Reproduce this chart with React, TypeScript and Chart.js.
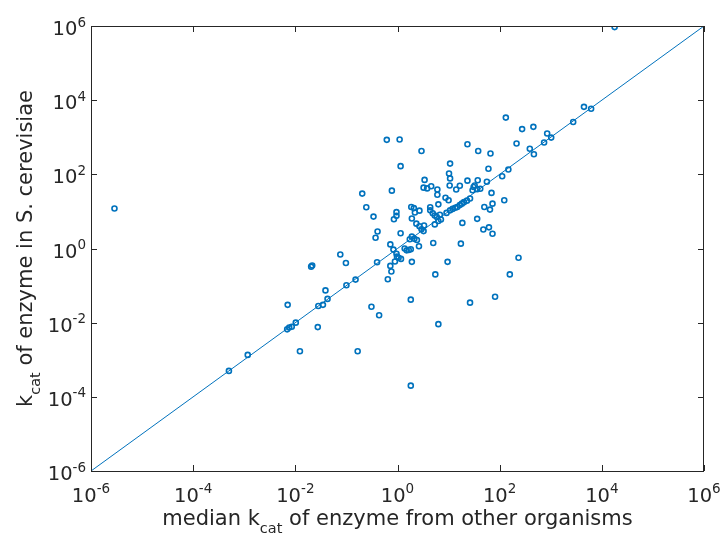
import React, { useEffect, useRef } from "react";
import { Chart, registerables } from "chart.js";

Chart.register(...registerables);

// median kcat of enzyme from other organisms (x) and kcat in S. cerevisiae (y)
const medianKcatOther: number[] = [
  1.78e4, 4.47e3, 6.17e3, 132, 2.75e3, 275, 457, 851, 1.02e3, 741,
  389, 468, 214, 0.617, 1.10, 2.95, 23.4, 38.0, 66.1, 1.15,
  10.7, 60.3, 148, 10.2, 112, 10.7, 3.39, 23.4, 37.2, 56.2,
  10.5, 16.6, 14.1, 3.24, 3.80, 4.57, 6.03, 6.03, 29.5, 30.9,
  32.4, 36.3, 41.7, 69.2, 0.776, 0.204, 123, 8.71, 10.0, 6.31,
  22.9, 20.0, 18.2, 16.6, 14.8, 13.5, 12.0, 10.7, 9.12, 26.3,
  50.1, 64.6, 72.4, 36.3, 18.6, 47.9, 61.7, 72.4, 0.245, 0.339,
  0.407, 0.372, 0.955, 0.955, 0.851, 1.15, 0.724, 1.86, 2.09, 2.69,
  2.19, 1.91, 2.34, 2.69, 3.31, 2.95, 3.24, 4.37, 4.37, 4.90,
  5.37, 5.89, 6.76, 7.08, 6.31, 5.37, 5.01, 2.63, 1.91, 1.74,
  2.14, 2.40, 1.38, 1.51, 1.66, 1.82, 0.832, 0.955, 17.4, 0.0759,
  0.0977, 0.398, 0.977, 1.05, 0.891, 1.17, 0.724, 0.759, 0.646, 0.151,
  0.100, 0.0427, 0.0389, 0.309, 0.437, 1.82, 6.31, 5.50, 1.91, 9.55,
  26.3, 81.3, 158, 234, 0.0204, 0.0214, 0.00708, 0.0282, 0.0347, 0.0102,
  0.00851, 0.00759, 0.00692, 0.0275, 0.0123, 0.166, 1.82, 0.00117, 0.000501, 2.88e-6,
];

const kcatCerevisiae: number[] = [
  9.33e5, 6.61e3, 5.89e3, 3.39e3, 2.57e3, 1.66e3, 1.91e3, 1.26e3, 977, 724,
  490, 347, 676, 851, 871, 427, 646, 427, 363, 166,
  195, 141, 135, 105, 89.1, 77.6, 70.8, 67.6, 69.2, 63.1,
  50.1, 49.0, 38.9, 43.7, 41.7, 47.9, 38.9, 28.2, 37.2, 45.7,
  50.1, 39.8, 40.7, 31.6, 36.3, 30.2, 20.0, 23.4, 20.0, 15.5,
  19.5, 17.8, 16.2, 14.8, 13.2, 12.6, 11.7, 10.7, 9.12, 22.4,
  13.2, 11.2, 16.2, 6.31, 4.90, 3.24, 3.72, 2.51, 12.9, 7.24,
  2.88, 1.95, 9.55, 7.59, 6.17, 2.57, 1.29, 13.2, 12.3, 10.5,
  9.33, 6.46, 4.68, 3.98, 4.17, 3.31, 2.95, 12.9, 10.7, 8.91,
  7.76, 7.08, 8.13, 6.03, 5.50, 4.47, 1.41, 1.15, 2.09, 1.78,
  1.82, 1.70, 1.00, 0.891, 0.912, 0.955, 0.933, 0.724, 1.35, 0.692,
  0.407, 0.427, 0.603, 0.562, 0.447, 0.525, 0.339, 0.240, 0.148, 0.145,
  0.102, 0.0437, 0.0741, 0.0269, 0.0158, 0.0417, 0.00912, 0.200, 0.437, 0.437,
  0.0347, 0.0501, 0.200, 0.562, 0.324, 0.347, 0.0302, 0.0282, 0.0302, 0.0100,
  0.00776, 0.00741, 0.00661, 0.00759, 0.00170, 0.00170, 0.000200, 0.00135, 0.000501, 12.0,
];

// identity line y = x across the axis range
const identityLine: number[] = [1e-6, 1e6];

// tick positions (powers of ten) and their exponents
const tickValues: number[] = [1e-6, 1e-4, 1e-2, 1, 1e2, 1e4, 1e6];
const tickExponents: string[] = ["-6", "-4", "-2", "0", "2", "4", "6"];

const xTitleParts = ["median k", "cat", " of enzyme from other organisms"];
const yTitleParts = ["k", "cat", " of enzyme in S. cerevisiae"];

const FONT = '"DejaVu Sans", sans-serif';
const AXIS_COLOR = "#262626";
const BLUE = "#0072BD";

const axesPlugin = {
  id: "matlabAxes",
  afterDraw(chart: any) {
    const ctx: CanvasRenderingContext2D = chart.ctx;
    const { left, right, top, bottom } = chart.chartArea;
    const xs = chart.scales.x;
    const ys = chart.scales.y;
    ctx.save();
    ctx.strokeStyle = AXIS_COLOR;
    ctx.lineWidth = 1;
    // box
    ctx.strokeRect(left + 0.5, top + 0.5, right - left - 1, bottom - top);
    const tl = 6;
    ctx.beginPath();
    tickValues.forEach((v) => {
      const px = Math.round(xs.getPixelForValue(v)) + 0.5;
      ctx.moveTo(px, bottom);
      ctx.lineTo(px, bottom - tl);
      ctx.moveTo(px, top);
      ctx.lineTo(px, top + tl);
      const py = Math.round(ys.getPixelForValue(v)) + 0.5;
      ctx.moveTo(left, py);
      ctx.lineTo(left + tl, py);
      ctx.moveTo(right, py);
      ctx.lineTo(right - tl, py);
    });
    ctx.stroke();

    ctx.fillStyle = AXIS_COLOR;
    ctx.textBaseline = "alphabetic";
    ctx.textAlign = "left";
    const baseFont = `19.5px ${FONT}`;
    const expFont = `13.5px ${FONT}`;
    tickValues.forEach((v, i) => {
      const e = tickExponents[i];
      ctx.font = baseFont;
      const w1 = ctx.measureText("10").width;
      ctx.font = expFont;
      const w2 = ctx.measureText(e).width;
      // x tick label
      const px = xs.getPixelForValue(v);
      const sx = px - (w1 + w2) / 2;
      ctx.font = baseFont;
      ctx.fillText("10", sx, bottom + 30.5);
      ctx.font = expFont;
      ctx.fillText(e, sx + w1, bottom + 22);
      // y tick label
      const py = ys.getPixelForValue(v);
      const ex = 86;
      ctx.font = expFont;
      ctx.fillText(e, ex - w2, py + 0.5);
      ctx.font = baseFont;
      ctx.fillText("10", ex - w2 - w1, py + 9);
    });

    const titleFont = `21px ${FONT}`;
    const subFont = `14.5px ${FONT}`;
    const measureParts = (parts: string[]) => {
      ctx.font = titleFont;
      const a = ctx.measureText(parts[0]).width;
      ctx.font = subFont;
      const b = ctx.measureText(parts[1]).width;
      ctx.font = titleFont;
      const c = ctx.measureText(parts[2]).width;
      return [a, b, c];
    };
    const drawParts = (parts: string[], sx: number, base: number) => {
      const [a, b] = measureParts(parts);
      ctx.font = titleFont;
      ctx.fillText(parts[0], sx, base);
      ctx.font = subFont;
      ctx.fillText(parts[1], sx + a, base + 8);
      ctx.font = titleFont;
      ctx.fillText(parts[2], sx + a + b, base);
    };
    // x title
    {
      const [a, b, c] = measureParts(xTitleParts);
      const cx = (left + right) / 2;
      drawParts(xTitleParts, cx - (a + b + c) / 2, 525);
    }
    // y title
    {
      const [a, b, c] = measureParts(yTitleParts);
      const cy = (top + bottom) / 2;
      ctx.save();
      ctx.translate(32, cy);
      ctx.rotate(-Math.PI / 2);
      drawParts(yTitleParts, -(a + b + c) / 2, 0);
      ctx.restore();
    }
    ctx.restore();
  },
};

export default function App() {
  const canvasRef = useRef<HTMLCanvasElement | null>(null);

  useEffect(() => {
    const canvas = canvasRef.current;
    if (!canvas) return;
    const points = medianKcatOther.map((x, i) => ({ x, y: kcatCerevisiae[i] }));
    const line = identityLine.map((v) => ({ x: v, y: v }));
    const chart = new Chart(canvas, {
      type: "scatter",
      data: {
        datasets: [
          {
            label: "enzymes",
            data: points,
            pointStyle: "circle",
            pointRadius: 2.5,
            pointBorderWidth: 1.6,
            borderColor: BLUE,
            backgroundColor: "rgba(0,0,0,0)",
            showLine: false,
          },
          {
            label: "y = x",
            data: line,
            showLine: true,
            borderColor: BLUE,
            borderWidth: 1,
            pointRadius: 0,
            backgroundColor: BLUE,
          },
        ],
      },
      options: {
        responsive: false,
        animation: false,
        devicePixelRatio: 1,
        layout: { padding: { left: 91, right: 17, top: 26, bottom: 63 } },
        plugins: {
          legend: { display: false },
          tooltip: { enabled: false },
        },
        scales: {
          x: { type: "logarithmic", min: 1e-6, max: 1e6, display: false },
          y: { type: "logarithmic", min: 1e-6, max: 1e6, display: false },
        },
      },
      plugins: [axesPlugin],
    });
    return () => chart.destroy();
  }, []);

  return (
    <div style={{ position: "absolute", left: 0, top: 0, width: 721, height: 534, background: "#fff" }}>
      <canvas ref={canvasRef} width={721} height={534} style={{ width: 721, height: 534 }} />
    </div>
  );
}
